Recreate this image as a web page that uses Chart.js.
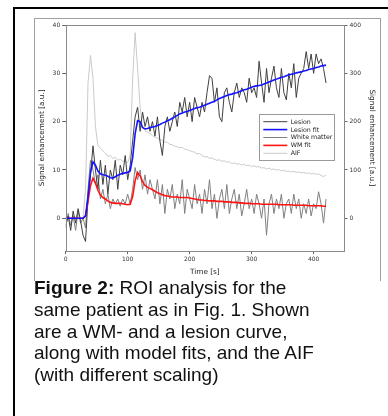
<!DOCTYPE html>
<html>
<head>
<meta charset="utf-8">
<script src="https://cdn.jsdelivr.net/npm/chart.js@4/dist/chart.umd.min.js"></script>
<style>
  html,body{margin:0;padding:0;background:#fff;}
  body{width:388px;height:416px;overflow:hidden;position:relative;}
  #outer{position:absolute;left:13px;top:7px;width:420px;height:430px;border-left:2px solid #000;border-top:2px solid #000;}
  #fig{position:absolute;left:34px;top:18px;width:345px;height:262px;border:1px solid #a0a0a0;border-bottom:none;}
  #cv{position:absolute;left:34px;top:18px;}
  #cap{position:absolute;left:34px;top:277px;width:350px;font-family:"Liberation Sans",Arial,sans-serif;font-size:19px;line-height:21.8px;color:#111;white-space:nowrap;}
</style>
</head>
<body>
<div id="outer"></div>
<div id="fig"></div>
<canvas id="cv" width="346" height="261"></canvas>
<div id="cap"><b>Figure 2:</b> ROI analysis for the<br>same patient as in Fig. 1. Shown<br>are a WM- and a lesion curve,<br>along with model fits, and the AIF<br>(with different scaling)</div>
<script>
const timeS = [
  0,4,8,12,16,20,24,28,32,36,
  40,44,48,52,56,60,64,68,72,76,
  80,84,88,92,96,100,104,108,112,116,
  120,124,128,132,136,140,144,148,152,156,
  160,164,168,172,176,180,184,188,192,196,
  200,204,208,212,216,220,224,228,232,236,
  240,244,248,252,256,260,264,268,272,276,
  280,284,288,292,296,300,304,308,312,316,
  320,324,328,332,336,340,344,348,352,356,
  360,364,368,372,376,380,384,388,392,396,
  400,404,408,412,416,420
];
const lesion = [
  -1.5,0.5,-2.5,1.5,-1,2,-0.5,-3.5,-4.8,4,
  9,15,10,6,12,7,11,5,10,8,
  12,6,11,9,13,8,11,16,21,23,
  18,22,19,21,18,20,17,21,16,13,
  19,21,18,20,22,19,24,22,25,21,
  24,20,25,23,21,24,22,26,29.5,29,
  24,27,21,20,26,27,24,22,26,28,
  25,27,26,24,29,26,27,25,32.5,28,
  24,31,26,29,31.5,27,25,31,26,24.5,
  30,27,32,25,29,30,31,34.5,31,34,
  30,34,32,33,31,28
];
const lesionFit = [
  0,0,0,0,0,0,0,0,0.5,4.5,
  9.5,11.7,11.0,9.8,9.2,9.0,8.9,8.7,8.4,8.3,
  8.6,8.9,9.1,9.3,9.4,9.5,9.8,12.5,17.5,20.2,
  20.0,18.8,18.5,18.6,18.8,18.9,19.0,19.2,19.4,19.7,
  19.9,20.2,20.4,20.7,21.0,21.3,21.6,21.8,22.0,22.1,
  22.3,22.5,22.7,22.9,23.0,23.2,23.4,23.6,23.8,24.0,
  24.2,24.5,24.8,25.0,25.2,25.4,25.6,25.7,25.9,26.0,
  26.2,26.4,26.6,26.7,26.9,27.1,27.3,27.4,27.5,27.6,
  27.8,28.0,28.2,28.4,28.6,28.8,29.0,29.2,29.3,29.5,
  29.7,29.8,29.9,30.1,30.2,30.3,30.5,30.6,30.8,30.9,
  31.0,31.2,31.3,31.5,31.6,31.7
];
const whiteMatter = [
  -2,1,-1.5,0.5,-2.5,1.5,-1,0,-2,6,
  12,10,7,9,4,6,3,5,2,4,
  3,4,2.5,4,3,5,3,6,10.5,8,
  10,6,9,5,8,6,4,8,3,7,
  1,6,4,7,2,5,3,8,1,6,
  4,2,7,3,5,1,6,3,8,2,
  5,0,4,6,2,7,1,4,6,2,
  5,0.5,3,6,2,4,1,5,3,0,
  4,-3.5,3,5,1,4,2,5,0,3,
  4,1,5,2,4,0,3,1,4,0.5,
  3,2,5.5,3,-1,4
];
const wmFit = [
  0,0,0,0,0,0,0,0,0.5,3.5,
  6.8,8.3,7.3,5.8,4.8,4.3,4.0,3.6,3.3,3.2,
  3.1,3.1,3.1,3.0,2.9,2.8,2.9,4.5,7.8,9.5,
  8.8,7.6,6.8,6.4,6.2,5.9,5.6,5.3,5.1,4.9,
  4.7,4.6,4.5,4.4,4.4,4.4,4.3,4.3,4.3,4.3,
  4.2,4.1,4.0,3.9,3.8,3.8,3.7,3.7,3.6,3.6,
  3.6,3.5,3.5,3.5,3.4,3.4,3.4,3.3,3.3,3.3,
  3.2,3.2,3.1,3.1,3.1,3.0,3.0,3.0,3.0,2.9,
  2.9,2.9,2.9,2.9,2.9,2.9,2.8,2.8,2.8,2.8,
  2.8,2.8,2.7,2.7,2.7,2.7,2.7,2.7,2.6,2.6,
  2.6,2.6,2.6,2.6,2.5,2.5
];
const aif = [
  0,1,-1,1,0,-1,1,0,60,280,
  337,290,190,150,145,140,135,128,130,124,
  126,120,122,118,119,115,130,290,384,310,
  230,188,182,178,176,171,168,166,163,161,
  158,157,153,152,149,148,146,147,143,142,
  140,138,137,133,134,130,127,128,124,125,
  122,120,121,118,119,116,117,113,115,112,
  113,110,112,109,110,107,109,106,107,104,
  105,102,104,101,102,100,101,98,100,97,
  98,96,97,95,96,94,95,93,94,92,
  93,91,92,89,86,90
];
const xTicks = [0,100,200,300,400];
const yTicks = [0,10,20,30,40];
const y2Ticks = [0,100,200,300,400];
const seriesLabels = ['Lesion','Lesion fit','White matter','WM fit','AIF'];
const axisTitle = 'Signal enhancement [a.u.]';
const xTitle = 'Time [s]';

const pts = arr => timeS.map((t,i)=>({x:t,y:arr[i]}));
const FONT = 'DejaVu Sans';

const framePlugin = {
  id:'frame',
  afterDatasetsDraw(chart){
    const a = chart.chartArea, c = chart.ctx;
    c.save();
    c.strokeStyle = '#8a8a8a';
    c.lineWidth = 1;
    c.strokeRect(Math.round(a.left)+0.5, Math.round(a.top)+0.5, Math.round(a.right-a.left), Math.round(a.bottom-a.top));
    c.restore();
  }
};
const legendPlugin = {
  id:'boxLegend',
  afterDraw(chart){
    const a = chart.chartArea, c = chart.ctx;
    const bw = 74.7, bh = 46;
    const bx = a.right - 10 - bw, by = a.top + 89;
    c.save();
    c.fillStyle = '#fff';
    c.fillRect(bx, by, bw, bh);
    c.strokeStyle = '#9a9a9a';
    c.lineWidth = 1;
    c.strokeRect(Math.round(bx)+0.5, Math.round(by)+0.5, Math.round(bw), Math.round(bh));
    c.font = '6.3px "' + FONT + '"';
    c.textBaseline = 'middle';
    chart.data.datasets.forEach((ds,i)=>{
      const y = by + 7.7 + 7.9*i;
      c.strokeStyle = ds.borderColor;
      c.lineWidth = ds.borderWidth;
      c.beginPath(); c.moveTo(bx+4, y); c.lineTo(bx+28, y); c.stroke();
      c.fillStyle = '#222';
      c.fillText(ds.label, bx+31.4, y+0.3);
    });
    c.restore();
  }
};

const tickFont = {family:FONT, size:6};
const titleFont = {family:FONT, size:7.3};
const gridOpts = {drawOnChartArea:false, drawTicks:true, tickLength:3.5, color:'#666'};

new Chart(document.getElementById('cv'), {
  type:'line',
  data:{
    datasets:[
      {label:seriesLabels[0], data:pts(lesion), borderColor:'#404040', borderWidth:1, order:3, yAxisID:'y'},
      {label:seriesLabels[1], data:pts(lesionFit), borderColor:'#1414ff', borderWidth:1.6, order:1, yAxisID:'y'},
      {label:seriesLabels[2], data:pts(whiteMatter), borderColor:'#808080', borderWidth:1, order:4, yAxisID:'y'},
      {label:seriesLabels[3], data:pts(wmFit), borderColor:'#ff1414', borderWidth:1.6, order:2, yAxisID:'y'},
      {label:seriesLabels[4], data:pts(aif), borderColor:'#c4c4c4', borderWidth:0.9, order:5, yAxisID:'y2'}
    ]
  },
  options:{
    responsive:false,
    devicePixelRatio:1,
    animation:false,
    parsing:true,
    elements:{point:{radius:0}, line:{tension:0}},
    layout:{padding:{top:7,left:0,right:0,bottom:0}},
    plugins:{legend:{display:false}, tooltip:{enabled:false}},
    scales:{
      x:{
        type:'linear', position:'bottom', min:0, max:449,
        afterBuildTicks:s=>{s.ticks = xTicks.map(v=>({value:v}));},
        afterFit:s=>{s.height = 28.3;},
        ticks:{font:tickFont, color:'#333', padding:2, maxRotation:0, autoSkip:false},
        grid:gridOpts,
        border:{display:false},
        title:{display:true, text:xTitle, font:titleFont, color:'#222', padding:{top:0,bottom:2.1}}
      },
      y:{
        type:'linear', position:'left', min:-6.7, max:40,
        afterBuildTicks:s=>{s.ticks = yTicks.map(v=>({value:v}));},
        afterFit:s=>{s.width = 31.7;},
        ticks:{font:tickFont, color:'#333', padding:2, autoSkip:false},
        grid:gridOpts,
        border:{display:false},
        title:{display:true, text:axisTitle, font:titleFont, color:'#222', padding:{top:4.2,bottom:0}}
      },
      y2:{
        type:'linear', position:'right', min:-67, max:400,
        afterBuildTicks:s=>{s.ticks = y2Ticks.map(v=>({value:v}));},
        afterFit:s=>{s.width = 36;},
        ticks:{font:tickFont, color:'#333', padding:2, autoSkip:false},
        grid:gridOpts,
        border:{display:false},
        title:{display:true, text:axisTitle, font:titleFont, color:'#222', padding:{top:3.8,bottom:0}}
      }
    }
  },
  plugins:[framePlugin, legendPlugin]
});
</script>
</body>
</html>
